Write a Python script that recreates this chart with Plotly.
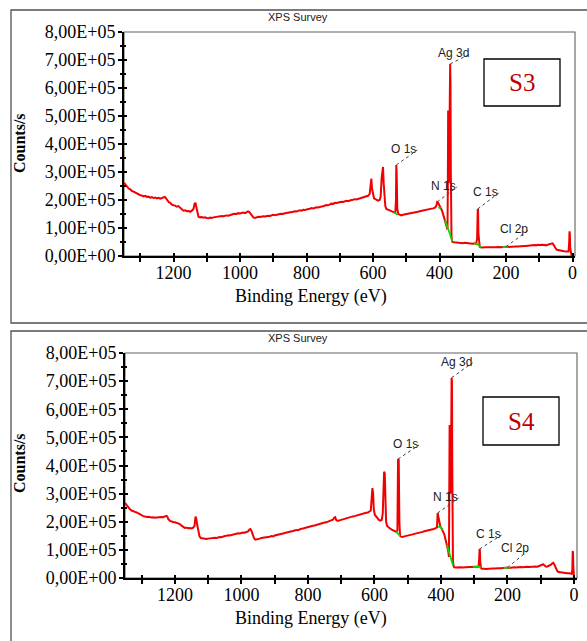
import numpy as np
import plotly.graph_objects as go

# ---------------- data (binding energy eV, counts in thousands) ----------------
s3_points = [
    (1349, 262), (1345, 255), (1340, 248), (1335, 241), (1330, 238), (1325, 232), (1320, 230),
    (1315, 226), (1310, 223), (1305, 219), (1300, 217), (1295, 216), (1290, 213), (1285, 215),
    (1280, 211), (1275, 212), (1270, 208), (1265, 210), (1260, 207), (1255, 209), (1250, 206),
    (1245, 208), (1240, 205), (1235, 207), (1230, 209), (1226, 211), (1222, 205), (1218, 197),
    (1214, 192), (1210, 190), (1205, 183), (1200, 181), (1195, 180), (1190, 176), (1185, 178),
    (1180, 172), (1175, 166), (1170, 162), (1165, 163), (1160, 160), (1155, 161), (1150, 158),
    (1145, 162), (1140, 168), (1137, 186), (1134, 190), (1131, 172), (1128, 150), (1125, 140),
    (1120, 138), (1115, 139), (1110, 137), (1105, 138), (1100, 136), (1095, 135), (1090, 137),
    (1085, 136), (1080, 138), (1075, 139), (1070, 141), (1065, 140), (1060, 142), (1055, 143),
    (1050, 142), (1045, 144), (1040, 145), (1035, 144), (1030, 147), (1025, 148), (1020, 150),
    (1015, 151), (1010, 150), (1005, 153), (1000, 152), (995, 154), (990, 155), (985, 153),
    (980, 156), (976, 159), (972, 157), (968, 150), (964, 142), (960, 138), (955, 136),
    (950, 138), (945, 140), (940, 139), (935, 141), (930, 142), (925, 141), (920, 143),
    (915, 144), (910, 143), (905, 146), (900, 147), (895, 146), (890, 148), (885, 149),
    (880, 150), (875, 151), (870, 150), (865, 153), (860, 154), (855, 153), (850, 156),
    (845, 157), (840, 158), (835, 160), (830, 159), (825, 161), (820, 163), (815, 162),
    (810, 165), (805, 164), (800, 167), (795, 168), (790, 169), (785, 171), (780, 170),
    (775, 172), (770, 174), (765, 173), (760, 176), (755, 177), (750, 178), (745, 180),
    (740, 182), (735, 181), (730, 184), (725, 187), (720, 186), (715, 190), (710, 189),
    (705, 191), (700, 192), (695, 194), (690, 193), (685, 196), (680, 197), (675, 196),
    (670, 199), (665, 200), (660, 201), (655, 203), (650, 202), (645, 204), (640, 206),
    (635, 207), (630, 208), (625, 210), (620, 212), (615, 215), (610, 222), (607, 262),
    (605, 276), (603, 240), (600, 214), (597, 206), (593, 203), (590, 200), (585, 198),
    (580, 200), (577, 212), (574, 280), (572, 316), (570, 318), (568, 260), (566, 200),
    (563, 178), (560, 168), (555, 164), (550, 163), (545, 160), (540, 158), (536, 156),
    (533, 154), (531, 200), (530, 325), (529, 300), (527, 170), (524, 150), (520, 148),
    (515, 145), (510, 147), (505, 148), (500, 150), (495, 151), (490, 152), (485, 153),
    (480, 155), (475, 156), (470, 157), (465, 158), (460, 160), (455, 161), (450, 162),
    (445, 164), (440, 165), (435, 167), (430, 168), (425, 169), (420, 170), (415, 172),
    (410, 178), (407, 193), (404, 190), (401, 182), (398, 172), (395, 168), (392, 160),
    (389, 148), (386, 135), (383, 125), (380, 115), (378, 100), (376, 95), (375, 250),
    (374, 520), (373, 400), (372, 260), (371, 300), (370, 450), (369, 640), (368, 686),
    (367, 620), (366, 300), (365, 120), (364, 70), (362, 52), (360, 50), (355, 49),
    (350, 48), (345, 47), (340, 48), (335, 47), (330, 46), (325, 47), (320, 46), (315, 46),
    (310, 45), (305, 45), (300, 44), (295, 45), (290, 43), (287, 60), (285, 168), (284, 165),
    (283, 80), (281, 38), (279, 33), (277, 31), (273, 30), (270, 30), (265, 31), (260, 30),
    (255, 31), (250, 31), (245, 30), (240, 31), (235, 31), (230, 32), (225, 31), (220, 32),
    (215, 31), (210, 32), (205, 32), (200, 33), (196, 32), (190, 33), (185, 33), (180, 34),
    (175, 33), (170, 34), (165, 34), (160, 35), (155, 35), (150, 35), (145, 36), (140, 36),
    (135, 37), (130, 37), (125, 37), (120, 38), (115, 39), (110, 38), (105, 40), (100, 39),
    (95, 40), (90, 40), (85, 39), (80, 38), (75, 40), (70, 42), (65, 44), (62, 46), (60, 45),
    (57, 40), (54, 32), (50, 26), (47, 22), (44, 21), (40, 20), (35, 19), (30, 18), (25, 17),
    (20, 16), (15, 15), (12, 16), (10, 50), (9, 88), (8, 80), (7, 30), (5, 10), (3, 2), (0, 0),
]

s4_points = [
    (1350, 267), (1345, 258), (1340, 250), (1335, 244), (1330, 240), (1325, 236), (1320, 235),
    (1315, 233), (1310, 229), (1305, 226), (1300, 223), (1295, 220), (1290, 219), (1285, 217),
    (1280, 218), (1275, 216), (1270, 215), (1265, 216), (1260, 214), (1255, 215), (1250, 216),
    (1245, 215), (1240, 217), (1235, 216), (1230, 218), (1226, 221), (1223, 219), (1220, 210),
    (1215, 203), (1210, 200), (1205, 199), (1200, 198), (1195, 196), (1190, 195), (1185, 192),
    (1180, 186), (1175, 181), (1170, 178), (1165, 179), (1160, 177), (1155, 178), (1150, 176),
    (1145, 179), (1141, 185), (1138, 218), (1136, 212), (1133, 190), (1130, 165), (1126, 148),
    (1122, 142), (1118, 141), (1114, 139), (1110, 140), (1105, 139), (1100, 140), (1095, 141),
    (1090, 140), (1085, 142), (1080, 143), (1075, 142), (1070, 145), (1065, 146), (1060, 145),
    (1055, 148), (1050, 149), (1045, 150), (1040, 152), (1035, 151), (1030, 153), (1025, 155),
    (1020, 156), (1015, 157), (1010, 159), (1005, 158), (1000, 160), (995, 162), (990, 161),
    (985, 164), (980, 166), (976, 172), (973, 174), (970, 168), (966, 155), (962, 141),
    (958, 136), (954, 138), (950, 139), (945, 140), (940, 142), (935, 143), (930, 142),
    (925, 145), (920, 146), (915, 147), (910, 149), (905, 148), (900, 151), (895, 152),
    (890, 154), (885, 155), (880, 157), (875, 158), (870, 160), (865, 161), (860, 163),
    (855, 164), (850, 166), (845, 167), (840, 169), (835, 171), (830, 170), (825, 173),
    (820, 175), (815, 176), (810, 178), (805, 179), (800, 181), (795, 183), (790, 184),
    (785, 186), (780, 187), (775, 189), (770, 190), (765, 192), (760, 193), (755, 195),
    (750, 197), (745, 198), (740, 200), (735, 201), (730, 203), (725, 207), (721, 214),
    (718, 216), (715, 206), (710, 203), (705, 205), (700, 207), (695, 209), (690, 210),
    (685, 212), (680, 214), (675, 215), (670, 217), (665, 219), (660, 220), (655, 222),
    (650, 224), (645, 225), (640, 227), (635, 228), (630, 230), (625, 232), (620, 233),
    (615, 236), (611, 240), (608, 290), (606, 320), (604, 300), (602, 245), (599, 225),
    (595, 218), (590, 210), (586, 206), (582, 204), (578, 207), (575, 230), (573, 330),
    (571, 378), (569, 372), (567, 260), (565, 200), (562, 185), (558, 180), (553, 176),
    (548, 172), (543, 169), (538, 166), (534, 164), (531, 170), (529, 423), (527, 420),
    (525, 200), (523, 150), (520, 147), (515, 146), (510, 148), (505, 149), (500, 150),
    (495, 152), (490, 153), (485, 155), (480, 157), (475, 158), (470, 160), (465, 161),
    (460, 163), (455, 164), (450, 166), (445, 167), (440, 168), (435, 170), (430, 171),
    (425, 173), (420, 175), (415, 177), (412, 180), (410, 231), (408, 215), (405, 195),
    (402, 183), (399, 178), (396, 172), (393, 165), (390, 155), (387, 140), (384, 128),
    (381, 115), (378, 95), (376, 75), (375, 300), (374, 544), (373, 540), (372, 330),
    (371, 300), (370, 360), (369, 610), (368, 712), (367, 700), (366, 400), (365, 150),
    (364, 60), (362, 42), (360, 38), (355, 37), (350, 38), (345, 37), (340, 38), (335, 37),
    (330, 38), (325, 39), (320, 38), (315, 39), (310, 39), (305, 40), (300, 39), (295, 40),
    (290, 39), (287, 42), (285, 70), (284, 103), (283, 100), (282, 60), (280, 36), (277, 33),
    (274, 32), (270, 33), (265, 32), (260, 33), (255, 34), (250, 33), (245, 34), (240, 34),
    (235, 35), (230, 34), (225, 35), (220, 35), (215, 36), (210, 35), (205, 36), (200, 37),
    (195, 36), (190, 37), (185, 37), (180, 38), (175, 37), (170, 38), (165, 38), (160, 39),
    (155, 38), (150, 39), (145, 39), (140, 40), (135, 39), (130, 40), (125, 40), (120, 41),
    (115, 41), (110, 40), (105, 42), (100, 43), (96, 47), (93, 49), (90, 45), (87, 41),
    (84, 40), (80, 41), (76, 43), (72, 45), (68, 48), (65, 52), (62, 54), (60, 50), (57, 40),
    (54, 30), (50, 24), (46, 21), (42, 20), (38, 19), (34, 19), (30, 18), (25, 18), (20, 17),
    (15, 17), (10, 16), (7, 15), (5, 30), (4, 96), (3, 90), (2, 40), (1, 10), (0, 0),
]

# green background segments (eV, kcounts)
s3_green = [
    [(537, 156), (532, 153), (526, 147)],
    [(404, 174), (396, 171)],
    [(384, 128), (378, 112), (372, 90), (366, 68), (361, 52)],
    [(296, 45), (288, 43), (281, 38), (276, 31)],
    [(210, 32), (194, 33)],
]
s4_green = [
    [(535, 165), (530, 160), (523, 150)],
    [(409, 183), (402, 181), (395, 172)],
    [(382, 118), (376, 95), (370, 70), (364, 45)],
    [(304, 40), (295, 40), (285, 40), (281, 36)],
    [(211, 36), (193, 37)],
]

peak_labels = ["Ag 3d", "O 1s", "N 1s", "C 1s", "Cl 2p"]
s3_label_be = [368, 530, 407, 285, 200]
s4_label_be = [368, 529, 410, 284, 200]

panel_names = ["S3", "S4"]
y_tickvals = [0, 100000, 200000, 300000, 400000, 500000, 600000, 700000, 800000]
y_ticktext = ["0,00E+00", "1,00E+05", "2,00E+05", "3,00E+05", "4,00E+05",
              "5,00E+05", "6,00E+05", "7,00E+05", "8,00E+05"]
y_minorvals = [50000, 150000, 250000, 350000, 450000, 550000, 650000, 750000]
x_tickvals = [1300, 1200, 1100, 1000, 900, 800, 700, 600, 500, 400, 300, 200, 100, 0]
x_ticktext = ["", "1200", "", "1000", "", "800", "", "600", "", "400", "", "200", "", "0"]

KCOUNT = 1000.0

# ---------------- styles / layout ----------------
W, H = 587, 641

SERIF = "Liberation Serif, Times New Roman, serif"
SANS = "Liberation Sans, Arial, sans-serif"
RED = "#f00000"
GREEN = "#00e000"

# panel geometry in window pixels: plot-area left, right, top, bottom
panels = [
    dict(l=124, r=575, t=32, b=256, xr=[1349, -7.5], box=(11, 10, 620, 323),
         title_y=17, xlab_y=296, ylab_y=143, sbox=(484, 59, 560, 106),
         dx=[20, 21, 20, 21, 23], dy=[10, 15, 15, 16, 17]),
    dict(l=125, r=577, t=353, b=578, xr=[1350, -9], box=(11, 331, 620, 680),
         title_y=338, xlab_y=618, ylab_y=463, sbox=(483, 397, 559, 445),
         dx=[21, 21, 21, 22, 23], dy=[15, 14, 15, 14, 19]),
]


def px(x):
    return x / W


def py(y):
    return 1 - y / H


fig = go.Figure()
layout = dict(width=W, height=H,
              margin=dict(l=0, r=0, t=0, b=0, pad=0, autoexpand=False),
              paper_bgcolor="white", plot_bgcolor="white", showlegend=False)
shapes = []
annotations = []

spectra = [s3_points, s4_points]
greens = [s3_green, s4_green]
label_bes = [s3_label_be, s4_label_be]

for i, P in enumerate(panels):
    n = 2 * i + 1          # main axes index
    m = 2 * i + 2          # overlay axes index (inside ticks)
    xa = "x" if n == 1 else f"x{n}"
    ya = "y" if n == 1 else f"y{n}"
    xb, yb = f"x{m}", f"y{m}"
    xdom = [px(P["l"]), px(P["r"])]
    ydom = [py(P["b"]), py(P["t"])]

    be = np.array([p[0] for p in spectra[i]], dtype=float)
    cnt = np.array([p[1] for p in spectra[i]], dtype=float) * KCOUNT

    fig.add_trace(go.Scatter(x=be, y=cnt, mode="lines", xaxis=xa, yaxis=ya,
                             line=dict(color=RED, width=2), hoverinfo="skip"))
    gx, gy = [], []
    for seg in greens[i]:
        gx += [s[0] for s in seg] + [None]
        gy += [s[1] * KCOUNT for s in seg] + [None]
    fig.add_trace(go.Scatter(x=gx, y=gy, mode="lines", xaxis=xa, yaxis=ya,
                             line=dict(color=GREEN, width=1.8), hoverinfo="skip"))
    fig.add_trace(go.Scatter(x=[be[0]], y=[0], mode="markers", xaxis=xb, yaxis=yb,
                             marker=dict(opacity=0), hoverinfo="skip"))

    tickfont = dict(family=SERIF, size=18, color="black")
    common_x = dict(range=P["xr"], domain=xdom, tickmode="array", tickvals=x_tickvals,
                    showgrid=False, zeroline=False, fixedrange=True, automargin=False)
    common_y = dict(range=[0, 800000], domain=ydom, tickmode="array", tickvals=y_tickvals,
                    showgrid=False, zeroline=False, fixedrange=True, automargin=False)
    layout["xaxis" if n == 1 else f"xaxis{n}"] = dict(
        **common_x, anchor=ya, ticktext=x_ticktext, ticks="outside", ticklen=4,
        tickwidth=1.6, tickcolor="black", showline=True, linecolor="black", linewidth=2,
        tickfont=tickfont, ticklabelstandoff=-5)
    layout["yaxis" if n == 1 else f"yaxis{n}"] = dict(
        **common_y, anchor=xa, ticktext=y_ticktext, ticks="outside", ticklen=4,
        tickwidth=1.6, tickcolor="black", showline=True, linecolor="black", linewidth=2,
        tickfont=tickfont, ticklabelstandoff=-1,
        minor=dict(tickmode="array", tickvals=y_minorvals, ticks="outside", ticklen=2,
                   tickwidth=1.6, tickcolor="black"))
    layout[f"xaxis{m}"] = dict(**common_x, anchor=yb, overlaying=xa, ticks="inside",
                               ticklen=3, tickwidth=1.6, tickcolor="black",
                               showticklabels=False, showline=False)
    layout[f"yaxis{m}"] = dict(**common_y, anchor=xb, overlaying=ya, ticks="inside",
                               ticklen=3, tickwidth=1.6, tickcolor="black",
                               showticklabels=False, showline=False,
                               minor=dict(tickmode="array", tickvals=y_minorvals,
                                          ticks="inside", ticklen=2, tickwidth=1.6,
                                          tickcolor="black"))

    bx0, by0, bx1, by1 = P["box"]
    shapes.append(dict(type="rect", xref="paper", yref="paper", x0=px(bx0), x1=px(bx1),
                       y0=py(by1), y1=py(by0), line=dict(color="#505050", width=1.3),
                       layer="below"))
    shapes.append(dict(type="rect", xref=f"{xa} domain", yref=f"{ya} domain",
                       x0=0, x1=1, y0=0, y1=1, line=dict(color="#606060", width=1.1),
                       layer="below"))
    sx0, sy0, sx1, sy1 = P["sbox"]
    shapes.append(dict(type="rect", xref="paper", yref="paper", x0=px(sx0), x1=px(sx1),
                       y0=py(sy1), y1=py(sy0), line=dict(color="black", width=1.3)))
    annotations.append(dict(text=panel_names[i], xref="paper", yref="paper",
                            x=px((sx0 + sx1) / 2), y=py((sy0 + sy1) / 2),
                            showarrow=False, xanchor="center", yanchor="middle",
                            font=dict(family=SERIF, size=25, color="#c00000")))
    annotations.append(dict(text="XPS Survey", xref="paper", yref="paper",
                            x=px(298), y=py(P["title_y"]), showarrow=False,
                            xanchor="center", yanchor="middle",
                            font=dict(family=SANS, size=11, color="#202020")))
    annotations.append(dict(text="Binding Energy (eV)", xref="paper", yref="paper",
                            x=px(311), y=py(P["xlab_y"]), showarrow=False,
                            xanchor="center", yanchor="middle",
                            font=dict(family=SERIF, size=18, color="black")))
    annotations.append(dict(text="<b>Counts/s</b>", xref="paper", yref="paper",
                            x=px(20), y=py(P["ylab_y"]), showarrow=False, textangle=-90,
                            xanchor="center", yanchor="middle",
                            font=dict(family=SERIF, size=16, color="black")))

    for k, lab in enumerate(peak_labels):
        e = label_bes[i][k]
        win = (be >= e - 2) & (be <= e + 2)
        yv = float(cnt[win].max())
        dx, dy = P["dx"][k], P["dy"][k]
        shapes.append(dict(type="line", xref=xa, yref=ya, xsizemode="pixel",
                           ysizemode="pixel", xanchor=e, yanchor=yv, x0=0, x1=dx,
                           y0=0, y1=dy, line=dict(color="#404040", width=1, dash="dot")))
        annotations.append(dict(text=lab, xref=xa, yref=ya, x=e, y=yv, showarrow=False,
                                xanchor="right", yanchor="middle", xshift=dx + 1,
                                yshift=dy + 1,
                                font=dict(family=SANS, size=12, color="#202020")))

layout["shapes"] = shapes
layout["annotations"] = annotations
fig.update_layout(**layout)

# remove the default page margin so the 587x641 figure fills the window exactly
fix_page = ("document.documentElement.style.margin='0';"
            "document.documentElement.style.padding='0';"
            "document.documentElement.style.overflow='hidden';"
            "document.body.style.margin='0';document.body.style.padding='0';"
            "document.body.style.overflow='hidden';")
fig.write_html("out.html", post_script=fix_page, config={"displayModeBar": False})
